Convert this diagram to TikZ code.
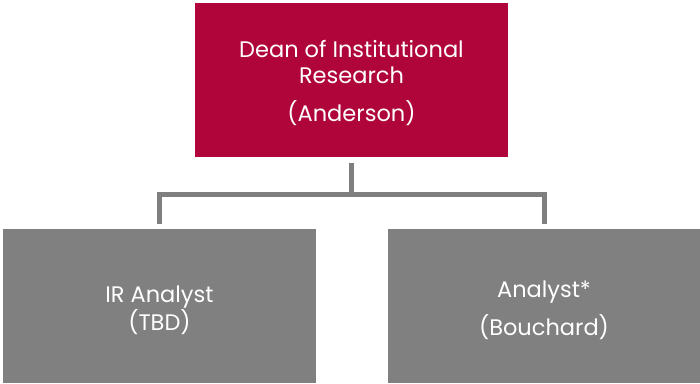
\documentclass[tikz,border=0pt]{standalone}
\usepackage{fontspec}
\setmainfont{Poppins}
\definecolor{crimson}{HTML}{B0053B}
\definecolor{boxgray}{HTML}{808080}
\definecolor{linegray}{HTML}{7F7F7F}
\begin{document}
\begin{tikzpicture}[x=1pt,y=-1pt,
  box/.style={draw=none, inner sep=0pt, text=white, align=center,
    font=\fontsize{22.5}{26}\selectfont},
  conn/.style={draw=linegray, line width=5pt, shorten <=6pt, shorten >=5pt}]
\useasboundingbox (0,0) rectangle (700,383);
\fill[crimson] (195,3) rectangle (508,157);
\node[box] (top) at (351.5,82.5) {Dean of Institutional\\Research\\[12pt](Anderson)};
\coordinate (topb) at (351.5,157);
\fill[boxgray] (3,229) rectangle (316,383);
\node[box] (left) at (159.5,310) {IR Analyst\\(TBD)};
\coordinate (leftt) at (159.5,229);
\fill[boxgray] (388,229) rectangle (700,383);
\node[box] (right) at (544,310) {Analyst*\\[10pt](Bouchard)};
\coordinate (rightt) at (544,229);
\draw[conn] (topb) -- ++(0,37) -| (leftt);
\draw[conn] (topb) -- ++(0,37) -| (rightt);
\end{tikzpicture}
\end{document}
